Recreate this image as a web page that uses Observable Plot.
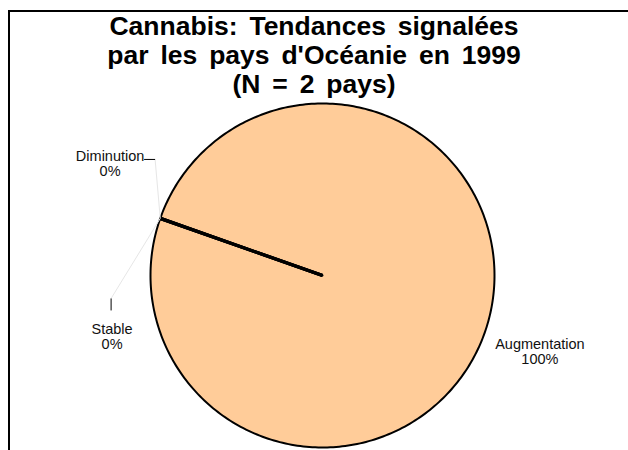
<!DOCTYPE html>
<html><head><meta charset="utf-8">
<script src="https://cdn.jsdelivr.net/npm/d3@7"></script>
<script src="https://cdn.jsdelivr.net/npm/@observablehq/plot@0.6"></script>
<style>
html,body{margin:0;padding:0;background:#fff;}
#wrap{position:relative;width:628px;height:450px;overflow:hidden;font-family:"Liberation Sans",Arial,sans-serif;}
#chart{position:absolute;left:0;top:0;}
#frame{position:absolute;left:8px;top:10px;width:700px;height:500px;border-top:2px solid #000;border-left:2px solid #000;}
#title{position:absolute;left:0;top:12px;width:628px;text-align:center;font-weight:bold;font-size:26.5px;line-height:29px;word-spacing:4.5px;color:#000;}
</style></head><body>
<div id="wrap"><div id="chart"></div><div id="frame"></div>
<div id="title">Cannabis: Tendances signalées<br>par les pays d'Océanie en 1999<br>(N = 2 pays)</div></div>
<script>
// ---- data ----
const categories = ["Augmentation", "Diminution", "Stable"];
const counts = [2, 0, 0];           // N = 2 pays
const sliceColors = ["#FFCC99", "#9999FF", "#CCFFCC"];
const startAngleDeg = -70.6;        // pie rotation

// ---- layout (pixels) ----
const W = 628, H = 450;
const mL = 150, mR = 134, mT = 103, mB = 3;
const R = (W - mL - mR) / 2;        // px per unit radius
const labelRadius = 1.34;
const labelNudge = [[0, 0], [5, -35.5], [7, 137.5]];
const leaderAttach = [null, [[45, -4], [34, -4]], [[-1, -38], [-1, -26]]];

const total = d3.sum(counts);
const a0 = startAngleDeg * Math.PI / 180;
const arcs = d3.pie().sort(null).startAngle(a0).endAngle(a0 + 2 * Math.PI)(counts);
const slices = categories.map((c, i) => ({
  cat: c, value: counts[i], color: sliceColors[i],
  start: arcs[i].startAngle, end: arcs[i].endAngle,
  mid: (arcs[i].startAngle + arcs[i].endAngle) / 2,
  pct: Math.round(counts[i] / total * 100) + "%"
}));

const marks = [];
// filled slices
slices.filter(s => s.value > 0).forEach(s => {
  const n = Math.max(2, Math.ceil((s.end - s.start) / (Math.PI / 180)));
  const pts = [{x: 0, y: 0}];
  for (let k = 0; k <= n; k++) {
    const a = s.start + (s.end - s.start) * k / n;
    pts.push({x: Math.sin(a), y: Math.cos(a)});
  }
  pts.push({x: 0, y: 0});
  marks.push(Plot.line(pts, {x: "x", y: "y", fill: s.color, stroke: "#000", strokeWidth: 2, curve: "linear", strokeLinejoin: "round"}));
});
// slice boundaries
marks.push(Plot.link(slices, {x1: () => 0, y1: () => 0, x2: d => Math.sin(d.start), y2: d => Math.cos(d.start), stroke: "#000", strokeWidth: 3.2}));

// label positions
const labels = slices.map((s, i) => ({
  ...s,
  lx: labelRadius * Math.sin(s.mid) + labelNudge[i][0] / R,
  ly: labelRadius * Math.cos(s.mid) - labelNudge[i][1] / R
}));
// leader lines
const faint = [], dark = [];
labels.forEach((l, i) => {
  if (!leaderAttach[i]) return;
  const ex = Math.sin(l.mid), ey = Math.cos(l.mid);
  const p1 = {x: l.lx + leaderAttach[i][0][0] / R, y: l.ly - leaderAttach[i][0][1] / R};
  const p2 = {x: l.lx + leaderAttach[i][1][0] / R, y: l.ly - leaderAttach[i][1][1] / R};
  faint.push({x1: ex, y1: ey, x2: p1.x, y2: p1.y});
  dark.push({x1: p1.x, y1: p1.y, x2: p2.x, y2: p2.y});
});
marks.push(Plot.link(faint, {x1: "x1", y1: "y1", x2: "x2", y2: "y2", stroke: "#e6e6e6", strokeWidth: 1}));
marks.push(Plot.link(dark, {x1: "x1", y1: "y1", x2: "x2", y2: "y2", stroke: "#000", strokeWidth: 1}));
marks.push(Plot.text(labels, {
  x: "lx", y: "ly", text: d => d.cat + "\n" + d.pct,
  textAnchor: "middle", lineAnchor: "middle", lineHeight: 1.04,
  fontSize: 14.5, fontFamily: "Liberation Sans, Arial, sans-serif", fill: "#111"
}));

const chart = Plot.plot({
  width: W, height: H,
  marginLeft: mL, marginRight: mR, marginTop: mT, marginBottom: mB,
  x: {domain: [-1, 1], axis: null},
  y: {domain: [-1, 1], axis: null},
  style: {background: "transparent", overflow: "visible"},
  marks
});
document.getElementById("chart").appendChild(chart);
</script>
</body></html>
